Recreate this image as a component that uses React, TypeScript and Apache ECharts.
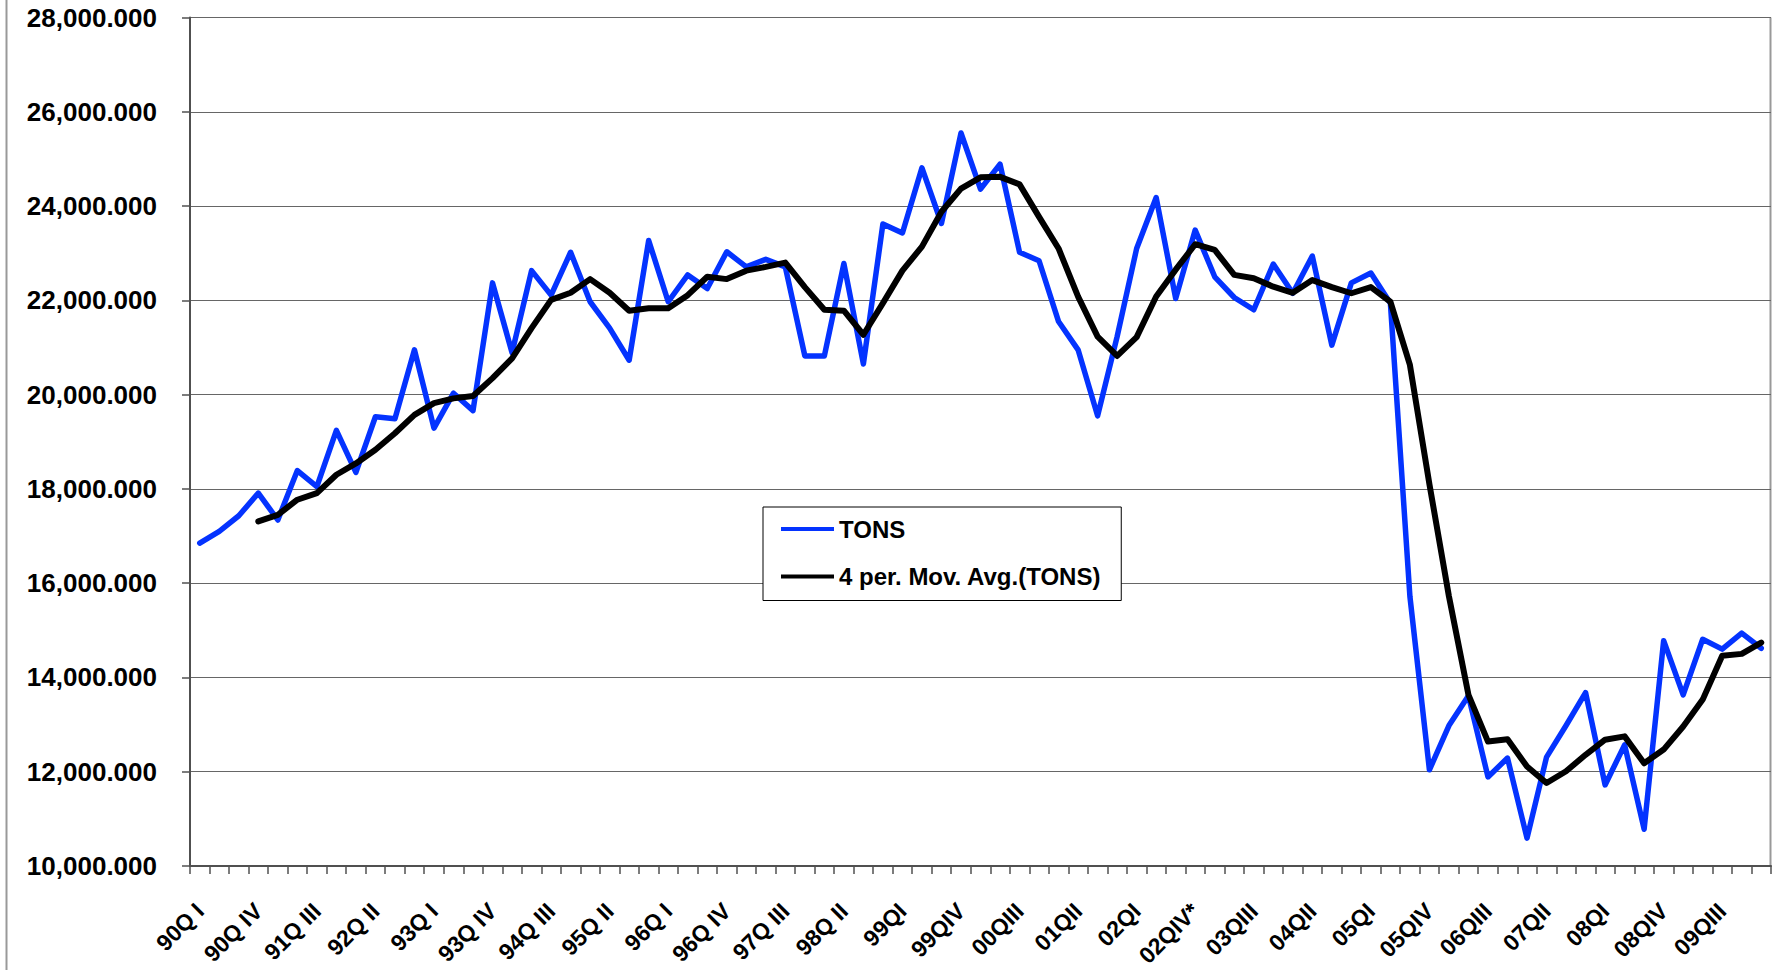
import React, { useEffect, useRef } from "react";
import * as echarts from "echarts";

const categories: string[] = [
  "90Q I", "90Q II", "90Q III", "90Q IV",
  "91Q I", "91Q II", "91Q III", "91Q IV",
  "92Q I", "92Q II", "92Q III", "92Q IV",
  "93Q I", "93Q II", "93Q III", "93Q IV",
  "94Q I", "94Q II", "94Q III", "94Q IV",
  "95Q I", "95Q II", "95Q III", "95Q IV",
  "96Q I", "96Q II", "96Q III", "96Q IV",
  "97Q I", "97Q II", "97Q III", "97Q IV",
  "98Q I", "98Q II", "98Q III", "98Q IV",
  "99QI", "99QII", "99QIII", "99QIV",
  "00QI", "00QII", "00QIII", "00QIV",
  "01QI", "01QII", "01QIII", "01QIV",
  "02QI", "02QII", "02QIII", "02QIV*",
  "03QI", "03QII", "03QIII", "03QIV",
  "04QI", "04QII", "04QIII", "04QIV",
  "05QI", "05QII", "05QIII", "05QIV",
  "06QI", "06QII", "06QIII", "06QIV",
  "07QI", "07QII", "07QIII", "07QIV",
  "08QI", "08QII", "08QIII", "08QIV",
  "09QI", "09QII", "09QIII", "09QIV",
  "10QI",
];

const tons: number[] = [
  16850, 17100, 17430, 17910, 17340, 18390, 18050, 19240, 18350, 19530,
  19490, 20950, 19290, 20030, 19660, 22370, 20890, 22630, 22110, 23020,
  21970, 21410, 20730, 23270, 21970, 22540, 22250, 23030, 22710, 22870,
  22710, 20820, 20820, 22780, 20650, 23620, 23430, 24810, 23630, 25550,
  24360, 24890, 23020, 22840, 21550, 20950, 19550, 21230, 23100, 24180,
  22040, 23490, 22500, 22060, 21800, 22770, 22150, 22940, 21050, 22370,
  22580, 21940, 15720, 12040, 12980, 13610, 11890, 12290, 10590, 12310,
  12980, 13680, 11720, 12570, 10780, 14780, 13630, 14810, 14600, 14940,
  14620,
];

const movAvg: (number | null)[] = [
  null, null, null, 17310, 17450, 17770, 17910, 18300, 18540, 18830,
  19180, 19570, 19820, 19920, 19970, 20350, 20770, 21410, 22010, 22160,
  22450, 22160, 21780, 21830, 21830, 22110, 22500, 22450, 22630, 22710,
  22800, 22280, 21800, 21780, 21270, 21940, 22630, 23140, 23880, 24370,
  24610, 24620, 24460, 23770, 23100, 22080, 21230, 20820, 21220, 22080,
  22650, 23190, 23070, 22540, 22470, 22290, 22160, 22430, 22280, 22150,
  22280, 21970, 20630, 18100, 15720, 13630, 12640, 12690, 12110, 11760,
  12010, 12360, 12680, 12750, 12180, 12470, 12960, 13530, 14460, 14500,
  14740,
];

const seriesNames: string[] = ["TONS", "4 per. Mov. Avg.(TONS)"];

const FONT = 'Arial, "Liberation Sans", Helvetica, sans-serif';

export default function App() {
  const ref = useRef<HTMLDivElement>(null);

  useEffect(() => {
    if (!ref.current) return;
    const chart = echarts.init(ref.current, undefined, { renderer: "svg" });
    chart.setOption({
      animation: false,
      backgroundColor: "#ffffff",
      textStyle: { fontFamily: FONT },
      grid: {
        left: 190,
        top: 17.5,
        width: 1581,
        height: 848.5,
        containLabel: false,
        outerBoundsMode: "none",
      },
      legend: {
        orient: "vertical",
        left: 763,
        top: 507,
        padding: [10, 20, 12, 18],
        icon: "rect",
        itemWidth: 53,
        itemHeight: 4,
        itemGap: 23.5,
        borderColor: "#000",
        borderWidth: 1,
        backgroundColor: "#fff",
        textStyle: {
          fontSize: 24,
          lineHeight: 24,
          fontWeight: "bold",
          color: "#000",
          fontFamily: FONT,
        },
        data: seriesNames,
      },
      xAxis: {
        type: "category",
        data: categories,
        boundaryGap: true,
        axisLine: { show: true, lineStyle: { color: "#505050", width: 2 } },
        axisTick: { show: true, interval: 0, length: 8, lineStyle: { color: "#505050", width: 1.5 } },
        axisLabel: {
          interval: 2,
          rotate: 45,
          margin: 41,
          align: "right",
          verticalAlign: "middle",
          padding: [0, 0, 14, 0],
          fontSize: 23,
          fontWeight: "bold",
          color: "#000",
          fontFamily: FONT,
        },
        splitLine: { show: false },
      },
      yAxis: {
        type: "value",
        min: 10000,
        max: 28000,
        interval: 2000,
        axisLine: { show: true, lineStyle: { color: "#505050", width: 2 } },
        axisTick: { show: true, length: 8, lineStyle: { color: "#505050", width: 1.5 } },
        axisLabel: {
          margin: 33,
          fontSize: 26,
          fontWeight: "bold",
          color: "#000",
          fontFamily: FONT,
          formatter: (v: number) =>
            v.toLocaleString("en-US", { minimumFractionDigits: 3, maximumFractionDigits: 3 }),
        },
        splitLine: { show: true, lineStyle: { color: "#666", width: 1.2 } },
      },
      graphic: [
        {
          type: "line",
          shape: { x1: 1770.5, y1: 17.5, x2: 1770.5, y2: 866 },
          style: { stroke: "#999", lineWidth: 2 },
          silent: true,
        },
        {
          type: "line",
          shape: { x1: 6.5, y1: 0, x2: 6.5, y2: 970 },
          style: { stroke: "#999", lineWidth: 2 },
          silent: true,
        },
      ],
      series: [
        {
          name: seriesNames[0],
          type: "line",
          data: tons,
          symbol: "none",
          lineStyle: { color: "#0433FF", width: 5.5, cap: "round", join: "round" },
          itemStyle: { color: "#0433FF" },
          z: 2,
        },
        {
          name: seriesNames[1],
          type: "line",
          data: movAvg,
          symbol: "none",
          connectNulls: false,
          lineStyle: { color: "#000", width: 6, cap: "round", join: "round" },
          itemStyle: { color: "#000" },
          z: 3,
        },
      ],
    });
    return () => chart.dispose();
  }, []);

  return (
    <div
      ref={ref}
      style={{ position: "fixed", left: 0, top: 0, width: 1773, height: 970, background: "#fff" }}
    />
  );
}
